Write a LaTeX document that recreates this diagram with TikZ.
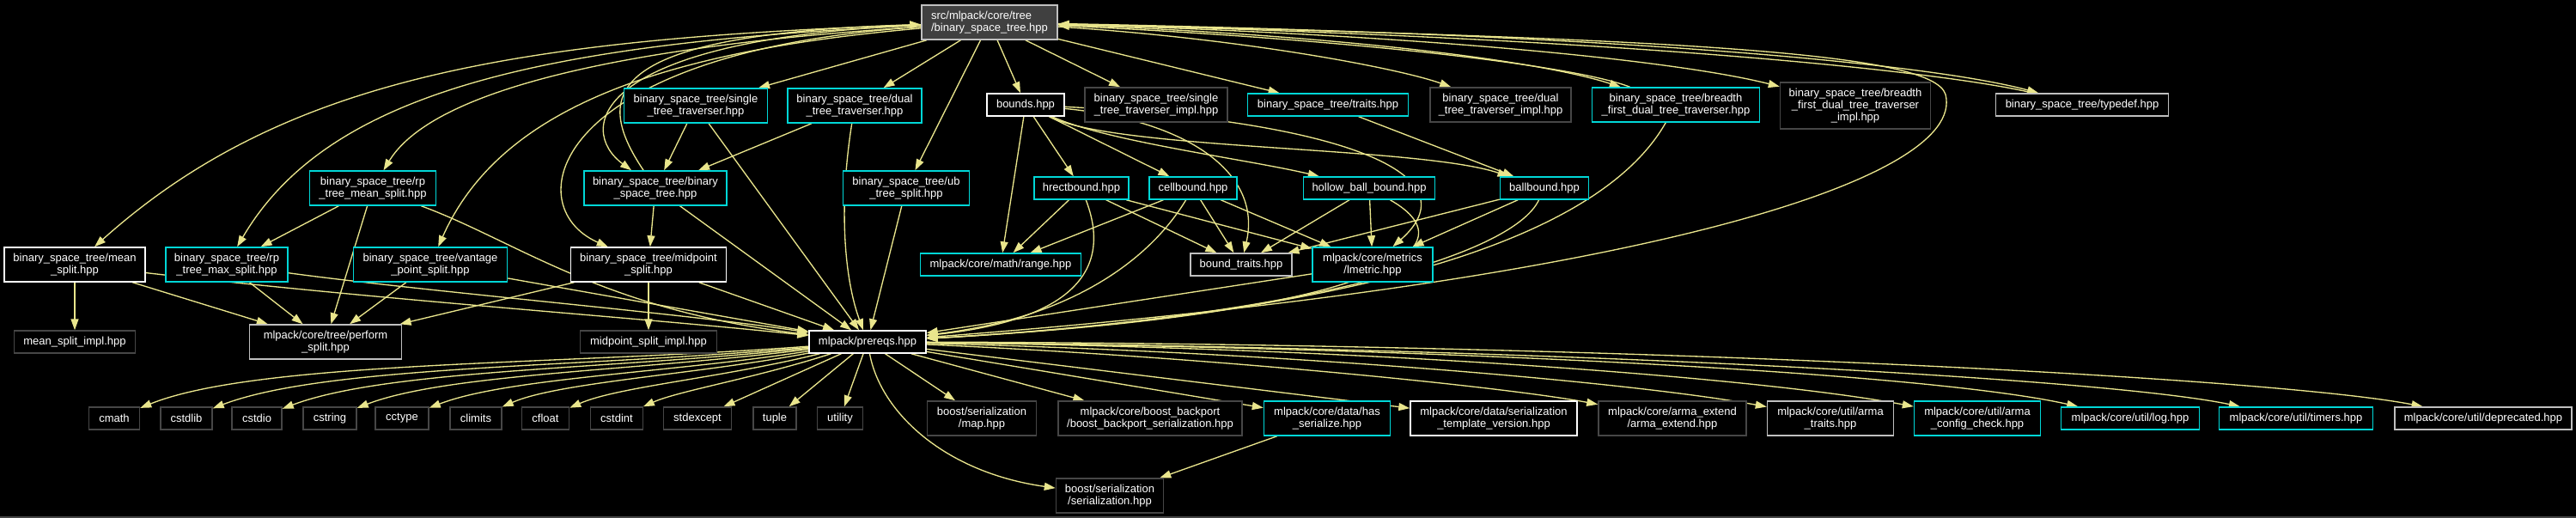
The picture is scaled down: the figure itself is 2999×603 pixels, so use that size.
\documentclass[tikz,border=0pt]{standalone}
\usepackage{fontspec}
\setmainfont{Liberation Sans}
\usetikzlibrary{arrows.meta}
\definecolor{edgeyellow}{RGB}{233,229,140}
\definecolor{doccyan}{RGB}{0,215,215}
\definecolor{undocgray}{RGB}{70,70,70}
\definecolor{framegray}{RGB}{191,191,191}
\definecolor{rootfill}{RGB}{64,64,64}
\def\px{0.75pt}
\pgfdeclarelayer{back}
\pgfdeclarelayer{edges}
\pgfsetlayers{back,edges,main}
\tikzset{
  filebox/.style={draw, line width=1.1pt, fill=black, text=white, inner xsep=1pt, inner ysep=1pt,
    minimum height=26*\px, align=center, font=\fontsize{9.75pt}{10.5pt}\selectfont},
  cyanbox/.style={filebox, draw=doccyan},
  whitebox/.style={filebox, draw=white},
  greybox/.style={filebox, draw=undocgray},
  lightbox/.style={filebox, draw=framegray},
  rootbox/.style={filebox, draw=framegray, fill=rootfill, align=left},
  twoline/.style={minimum height=40*\px},
  threeline/.style={minimum height=54*\px},
  dep/.style={draw=edgeyellow, line width=1pt, -{Triangle[length=9.75pt, width=6.75pt]}},
}
\begin{document}
\begin{tikzpicture}[x=0.75pt, y=-0.75pt]
  \useasboundingbox (0,0) rectangle (2999,603);
  \begin{pgfonlayer}{back}
    \fill[black] (0,0) rectangle (2999,603);
    \fill[undocgray] (0,601) rectangle (2999,603);
  \end{pgfonlayer}
  % root
  \node[rootbox, twoline, minimum width=158*\px] (root) at (1152,26) {src/mlpack/core/tree\\/binary\_space\_tree.hpp};
  % first row
  \node[cyanbox, twoline, minimum width=167*\px] (stt) at (810,123) {binary\_space\_tree/single\\\_tree\_traverser.hpp};
  \node[cyanbox, twoline, minimum width=156*\px] (dtt) at (995,123) {binary\_space\_tree/dual\\\_tree\_traverser.hpp};
  \node[whitebox, minimum width=90*\px] (bounds) at (1194,122) {bounds.hpp};
  \node[greybox, twoline, minimum width=166*\px] (stti) at (1346,122) {binary\_space\_tree/single\\\_tree\_traverser\_impl.hpp};
  \node[cyanbox, minimum width=187*\px] (traits) at (1546,122) {binary\_space\_tree/traits.hpp};
  \node[greybox, twoline, minimum width=164*\px] (dtti) at (1747,122) {binary\_space\_tree/dual\\\_tree\_traverser\_impl.hpp};
  \node[cyanbox, twoline, minimum width=195*\px] (bfdtt) at (1951,122) {binary\_space\_tree/breadth\\\_first\_dual\_tree\_traverser.hpp};
  \node[greybox, threeline, minimum width=175*\px] (bfdtti) at (2160,123) {binary\_space\_tree/breadth\\\_first\_dual\_tree\_traverser\\\_impl.hpp};
  \node[lightbox, minimum width=201*\px] (typedef) at (2424,122) {binary\_space\_tree/typedef.hpp};
  % second row
  \node[cyanbox, twoline, minimum width=147*\px] (rpmean) at (434,219) {binary\_space\_tree/rp\\\_tree\_mean\_split.hpp};
  \node[cyanbox, twoline, minimum width=166*\px] (bst) at (763,219) {binary\_space\_tree/binary\\\_space\_tree.hpp};
  \node[cyanbox, twoline, minimum width=147*\px] (ub) at (1055,219) {binary\_space\_tree/ub\\\_tree\_split.hpp};
  \node[cyanbox, minimum width=110*\px] (hrect) at (1259,219) {hrectbound.hpp};
  \node[cyanbox, minimum width=102*\px] (cell) at (1389,219) {cellbound.hpp};
  \node[cyanbox, minimum width=153*\px] (hollow) at (1594,219) {hollow\_ball\_bound.hpp};
  \node[cyanbox, minimum width=103*\px] (ball) at (1798,219) {ballbound.hpp};
  % third row
  \node[whitebox, twoline, minimum width=164*\px] (meansplit) at (87,308) {binary\_space\_tree/mean\\\_split.hpp};
  \node[cyanbox, twoline, minimum width=142*\px] (rpmax) at (264,308) {binary\_space\_tree/rp\\\_tree\_max\_split.hpp};
  \node[cyanbox, twoline, minimum width=179*\px] (vantage) at (501,308) {binary\_space\_tree/vantage\\\_point\_split.hpp};
  \node[whitebox, twoline, minimum width=181*\px] (midpoint) at (755,308) {binary\_space\_tree/midpoint\\\_split.hpp};
  \node[cyanbox, minimum width=187*\px] (range) at (1165,308) {mlpack/core/math/range.hpp};
  \node[lightbox, minimum width=118*\px] (boundtraits) at (1445,308) {bound\_traits.hpp};
  \node[cyanbox, twoline, minimum width=140*\px] (lmetric) at (1598,308) {mlpack/core/metrics\\/lmetric.hpp};
  % fourth row
  \node[greybox, minimum width=141*\px] (meanimpl) at (87,398) {mean\_split\_impl.hpp};
  \node[lightbox, twoline, minimum width=177*\px] (perform) at (379,398) {mlpack/core/tree/perform\\\_split.hpp};
  \node[greybox, minimum width=159*\px] (midimpl) at (755,398) {midpoint\_split\_impl.hpp};
  \node[whitebox, minimum width=136*\px] (prereqs) at (1010,398) {mlpack/prereqs.hpp};
  % fifth row
  \node[greybox, minimum width=59*\px] (cmath) at (133,487) {cmath};
  \node[greybox, minimum width=60*\px] (cstdlib) at (217,487) {cstdlib};
  \node[greybox, minimum width=58*\px] (cstdio) at (299,487) {cstdio};
  \node[greybox, minimum width=62*\px] (cstring) at (384,487) {cstring};
  \node[greybox, minimum width=62*\px] (cctype) at (468,487) {cctype};
  \node[greybox, minimum width=60*\px] (climits) at (554,487) {climits};
  \node[greybox, minimum width=55*\px] (cfloat) at (635,487) {cfloat};
  \node[greybox, minimum width=61*\px] (cstdint) at (718,487) {cstdint};
  \node[greybox, minimum width=79*\px] (stdexcept) at (812,487) {stdexcept};
  \node[greybox, minimum width=50*\px] (tuple) at (902,487) {tuple};
  \node[greybox, minimum width=53*\px] (utility) at (978,487) {utility};
  \node[greybox, twoline, minimum width=127*\px] (map) at (1143,487) {boost/serialization\\/map.hpp};
  \node[greybox, twoline, minimum width=214*\px] (backport) at (1339,487) {mlpack/core/boost\_backport\\/boost\_backport\_serialization.hpp};
  \node[cyanbox, twoline, minimum width=147*\px] (hasser) at (1545,487) {mlpack/core/data/has\\\_serialize.hpp};
  \node[whitebox, twoline, minimum width=194*\px] (stv) at (1739,487) {mlpack/core/data/serialization\\\_template\_version.hpp};
  \node[greybox, twoline, minimum width=172*\px] (armaext) at (1947,487) {mlpack/core/arma\_extend\\/arma\_extend.hpp};
  \node[lightbox, twoline, minimum width=147*\px] (armatraits) at (2131,487) {mlpack/core/util/arma\\\_traits.hpp};
  \node[cyanbox, twoline, minimum width=147*\px] (armacfg) at (2302,487) {mlpack/core/util/arma\\\_config\_check.hpp};
  \node[cyanbox, minimum width=161*\px] (log) at (2480,487) {mlpack/core/util/log.hpp};
  \node[cyanbox, minimum width=179*\px] (timers) at (2673,487) {mlpack/core/util/timers.hpp};
  \node[lightbox, minimum width=206*\px] (deprecated) at (2891,487) {mlpack/core/util/deprecated.hpp};
  % last row
  \node[greybox, twoline, minimum width=125*\px] (serial) at (1292,577) {boost/serialization\\/serialization.hpp};

  \begin{pgfonlayer}{edges}
  % edges out of the root
  \draw[dep] (root) .. controls (600,45) and (330,90) .. (meansplit);
  \draw[dep] (root) .. controls (620,50) and (380,110) .. (rpmax);
  \draw[dep] (root) .. controls (700,55) and (500,110) .. (rpmean);
  \draw[dep] (root) .. controls (760,60) and (580,130) .. (vantage);
  \draw[dep] (root) .. controls (640,60) and (600,240) .. (midpoint);
  \draw[dep] (root) .. controls (690,45) and (670,150) .. (bst);
  \draw[dep] (bst) .. controls (690,110) and (700,40) .. (root);
  \draw[dep] (root) -- (stt);
  \draw[dep] (root) -- (dtt);
  \draw[dep] (root) -- (ub);
  \draw[dep] (root) -- (bounds);
  \draw[dep] (root) -- (stti);
  \draw[dep] (root) -- (traits);
  \draw[dep] (root) .. controls (1450,45) and (1630,80) .. (dtti);
  \draw[dep] (root) .. controls (1550,40) and (1790,70) .. (bfdtt);
  \draw[dep] (bfdtt) .. controls (1830,75) and (1560,45) .. (root);
  \draw[dep] (root) .. controls (1650,40) and (1950,70) .. (bfdtti);
  \draw[dep] (root) .. controls (1900,40) and (2250,75) .. (typedef);
  \draw[dep] (typedef) .. controls (2270,85) and (1920,45) .. (root);
  \draw[dep] (root) .. controls (1950,45) and (2250,60) .. (2265,110) .. controls (2290,210) and (1900,330) .. (prereqs);

  % first row
  \draw[dep] (stt) -- (bst);
  \draw[dep] (stt) -- (prereqs);
  \draw[dep] (dtt) -- (bst);
  \draw[dep] (dtt) .. controls (975,250) and (985,330) .. (prereqs);
  \draw[dep] (bounds) -- (range);
  \draw[dep] (bounds) -- (hrect);
  \draw[dep] (bounds) -- (cell);
  \draw[dep] (bounds) .. controls (1290,165) and (1450,185) .. (hollow);
  \draw[dep] (bounds) .. controls (1300,175) and (1650,170) .. (ball);
  \draw[dep] (bounds) .. controls (1380,140) and (1470,200) .. (boundtraits);
  \draw[dep] (bounds) .. controls (1550,140) and (1720,200) .. (lmetric);
  \draw[dep] (traits) -- (ball);
  \draw[dep] (bfdtt) .. controls (1850,300) and (1500,370) .. (prereqs);

  % second row
  \draw[dep] (rpmean) -- (rpmax);
  \draw[dep] (rpmean) -- (perform);
  \draw[dep] (rpmean) .. controls (600,280) and (700,360) .. (prereqs);
  \draw[dep] (bst) -- (midpoint);
  \draw[dep] (bst) -- (prereqs);
  \draw[dep] (ub) -- (prereqs);
  \draw[dep] (hrect) -- (range);
  \draw[dep] (hrect) -- (boundtraits);
  \draw[dep] (hrect) -- (lmetric);
  \draw[dep] (hrect) .. controls (1290,300) and (1270,370) .. (prereqs);
  \draw[dep] (cell) -- (range);
  \draw[dep] (cell) -- (boundtraits);
  \draw[dep] (cell) -- (lmetric);
  \draw[dep] (cell) .. controls (1340,300) and (1250,370) .. (prereqs);
  \draw[dep] (hollow) -- (boundtraits);
  \draw[dep] (hollow) -- (lmetric);
  \draw[dep] (hollow) .. controls (1720,290) and (1600,365) .. (prereqs);
  \draw[dep] (ball) -- (boundtraits);
  \draw[dep] (ball) -- (lmetric);
  \draw[dep] (ball) .. controls (1760,300) and (1500,370) .. (prereqs);

  % third row
  \draw[dep] (meansplit) -- (meanimpl);
  \draw[dep] (meansplit) -- (perform);
  \draw[dep] (meansplit) .. controls (450,350) and (750,370) .. (prereqs);
  \draw[dep] (rpmax) -- (perform);
  \draw[dep] (rpmax) .. controls (500,340) and (800,365) .. (prereqs);
  \draw[dep] (vantage) -- (perform);
  \draw[dep] (vantage) -- (prereqs);
  \draw[dep] (midpoint) -- (perform);
  \draw[dep] (midpoint) -- (midimpl);
  \draw[dep] (midpoint) -- (prereqs);
  \draw[dep] (lmetric) -- (prereqs);

  % out of prereqs
  \draw[dep] (prereqs) .. controls (650,425) and (300,420) .. (cmath);
  \draw[dep] (prereqs) .. controls (680,428) and (380,425) .. (cstdlib);
  \draw[dep] (prereqs) .. controls (710,430) and (450,430) .. (cstdio);
  \draw[dep] (prereqs) .. controls (740,432) and (520,435) .. (cstring);
  \draw[dep] (prereqs) .. controls (780,434) and (590,440) .. (cctype);
  \draw[dep] (prereqs) .. controls (810,436) and (650,445) .. (climits);
  \draw[dep] (prereqs) .. controls (840,440) and (720,450) .. (cfloat);
  \draw[dep] (prereqs) .. controls (880,440) and (790,455) .. (cstdint);
  \draw[dep] (prereqs) -- (stdexcept);
  \draw[dep] (prereqs) -- (tuple);
  \draw[dep] (prereqs) -- (utility);
  \draw[dep] (prereqs) -- (map);
  \draw[dep] (prereqs) .. controls (1025,480) and (1100,550) .. (serial);
  \draw[dep] (prereqs) -- (backport);
  \draw[dep] (prereqs) -- (hasser);
  \draw[dep] (prereqs) -- (stv);
  \draw[dep] (prereqs) .. controls (1400,415) and (1750,450) .. (armaext);
  \draw[dep] (prereqs) .. controls (1500,410) and (1900,445) .. (armatraits);
  \draw[dep] (prereqs) .. controls (1600,405) and (2050,440) .. (armacfg);
  \draw[dep] (prereqs) .. controls (1700,405) and (2250,435) .. (log);
  \draw[dep] (prereqs) .. controls (1800,405) and (2450,440) .. (timers);
  \draw[dep] (prereqs) .. controls (1900,400) and (2650,440) .. (deprecated);
  \draw[dep] (hasser) -- (serial);
  \end{pgfonlayer}
\end{tikzpicture}
\end{document}
